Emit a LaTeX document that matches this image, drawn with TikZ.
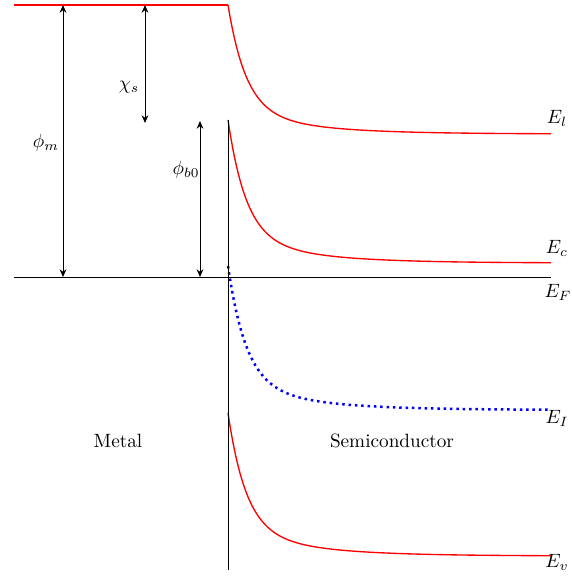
\documentclass[tikz,border=0pt]{standalone}
\usetikzlibrary{arrows.meta}
\begin{document}
\begin{tikzpicture}[x=0.52pt,y=-0.52pt,
  band/.style={red,line width=0.7pt},
  axis/.style={black,line width=0.5pt},
  fermi/.style={blue,dotted,line width=1.3pt},
  dim/.style={{Stealth[length=4pt,width=3.5pt]}-{Stealth[length=4pt,width=3.5pt]},line width=0.5pt},
  lbl/.style={inner sep=1pt},
  declare function={bend(\t)=0.8*exp(-\t/18)+0.2*exp(-\t/70);}]
\useasboundingbox (0,0) rectangle (571,576);
% coordinates
\coordinate (vacL) at (14,5);
\coordinate (vacK) at (228,5);
\coordinate (ifTop) at (228,120);
\coordinate (ifBot) at (228,570);
\coordinate (efL) at (14,277);
\coordinate (efR) at (551,277);
\coordinate (mTop) at (63,5);
\coordinate (mBot) at (63,277);
\coordinate (cTop) at (145,5);
\coordinate (cBot) at (145,123);
\coordinate (bTop) at (200,121);
\coordinate (bBot) at (200,277);
% vacuum level
\draw[band] (vacL) -- (vacK);
\draw[band] plot[domain=0:323,samples=200] ({228+\x},{134-129*bend(\x)});
% conduction band
\draw[band] plot[domain=0:323,samples=200] ({228+\x},{263-143*bend(\x)});
% intrinsic level
\draw[fermi] plot[domain=0:323,samples=200] ({228+\x},{410-144*bend(\x)});
% valence band
\draw[band] plot[domain=0:323,samples=200] ({228+\x},{556-143*bend(\x)});
% axes
\draw[axis] (efL) -- (efR);
\draw[axis] (ifTop) -- (ifBot);
% dimension arrows
\draw[dim] (mTop) -- (mBot);
\draw[dim] (cTop) -- (cBot);
\draw[dim] (bTop) -- (bBot);
% labels
\node[lbl] (phim) at (46,143) {$\phi_m$};
\node[lbl] (chis) at (129,87) {$\chi_s$};
\node[lbl] (phib) at (186,170) {$\phi_{b0}$};
\node[lbl] (El) at (557,118) {$E_l$};
\node[lbl] (Ec) at (557,248) {$E_c$};
\node[lbl] (EF) at (558,292) {$E_F$};
\node[lbl] (EI) at (557,418) {$E_I$};
\node[lbl] (Ev) at (557,562) {$E_v$};
\node[lbl] (metal) at (118,441) {Metal};
\node[lbl] (semi) at (392,441) {Semiconductor};
\end{tikzpicture}
\end{document}
